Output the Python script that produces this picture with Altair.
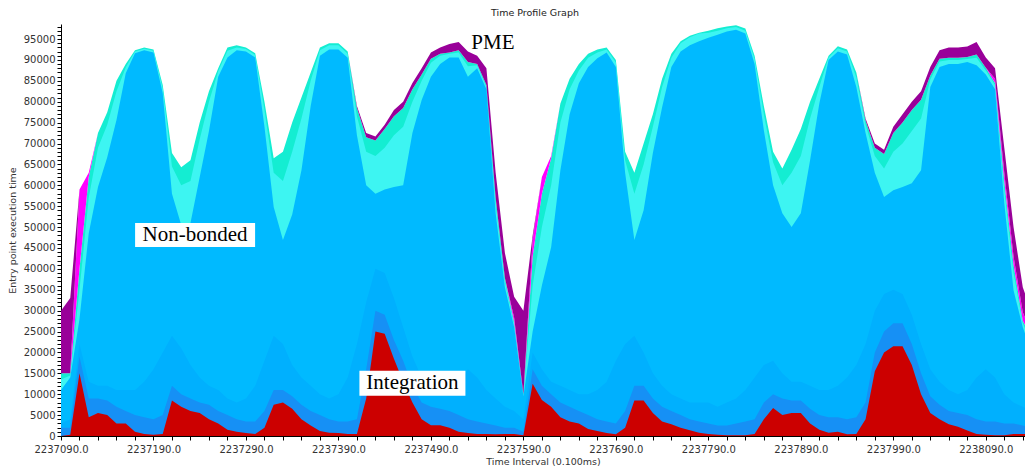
import altair as alt
import pandas as pd

# ---------------- data (values in thousands, sampled every 10 time units) ----------------
x_start = 2237090
x_step = 10

pme_top = [30, 33, 59, 63, 72.5, 77.5, 85, 89, 92.3, 93,
           92.5, 84, 67.7, 64.3, 66, 75, 82.5, 88, 93, 93.5,
           93, 91.6, 80, 66.5, 68, 75, 81, 87, 93, 94,
           94, 92, 79, 72.5, 71.7, 74.5, 78, 80, 84.5, 88,
           91.8, 93, 93.8, 94.3, 92, 91, 88, 63, 43.8, 33.3,
           30, 48, 62, 67, 79.6, 85.5, 89, 91.5, 92.5, 93,
           90, 68, 63, 70, 77, 85.5, 91.5, 94.5, 95.8, 96.5,
           97, 97.6, 98, 98.3, 97.5, 91, 79, 68, 64, 68.5,
           73.5, 80, 85.5, 91, 93.3, 92.5, 87, 76, 70, 68.5,
           74, 77, 80, 82.5, 88.3, 92.3, 93, 93, 93.2, 94.3,
           90.6, 88, 69, 50, 35.6, 29.4]

magenta_top = [15, 15, 59, 63, 72.5, 77.5, 85, 89, 92.3, 93,
               92.5, 84, 67.7, 64.3, 66, 75, 82.5, 88, 93, 93.5,
               93, 91.6, 80, 66.5, 68, 75, 81, 87, 93, 94,
               94, 92, 78.5, 71.5, 70.7, 73.5, 76.5, 78.5, 83, 86.5,
               90.3, 91.5, 91.8, 92.3, 89.5, 89, 84, 57, 37.8, 28.3,
               10, 47, 62, 67, 79.6, 85.5, 89, 91.5, 92.5, 93,
               90, 68, 63, 70, 77, 85.5, 91.5, 94.5, 95.8, 96.5,
               97, 97.6, 98, 98.3, 97.5, 91, 79, 68, 64, 68.5,
               73.5, 80, 85.5, 91, 93.3, 92.5, 87, 75.5, 69, 67.5,
               72.5, 75, 78, 80.5, 86.3, 90.3, 90.5, 90.5, 90.7, 91.3,
               88.1, 85.5, 63, 43, 29.6, 24.4]

turq_top = [15, 15, 40, 62, 72.5, 77.5, 85, 89, 92.3, 93,
            92.5, 84, 67.7, 64.3, 66, 75, 82.5, 88, 93, 93.5,
            93, 91.6, 80, 66.5, 68, 75, 81, 87, 93, 94,
            94, 92, 78.5, 71.5, 70.7, 73.5, 76.5, 78.5, 83, 86.5,
            90.3, 91.5, 91.8, 92.3, 89.5, 89, 84, 57, 37.8, 27.3,
            10, 43, 58, 66.5, 79.6, 85.5, 89, 91.5, 92.5, 93,
            90, 68, 63, 70, 77, 85.5, 91.5, 94.5, 95.8, 96.5,
            97, 97.6, 98, 98.3, 97.5, 91, 79, 68, 64, 68.5,
            73.5, 80, 85.5, 91, 93.3, 92.5, 87, 75.5, 69, 67.5,
            72.5, 75, 78, 80.5, 86.3, 90.3, 90.5, 90.5, 90.7, 91.3,
            88.1, 84.5, 61, 41, 27.6, 23.4]

cyan_top = [13.5, 14.5, 35, 57, 69, 74.5, 82.5, 88.2, 92, 92.7,
            92.2, 83.2, 64.5, 60, 61, 71, 80, 87.3, 92.2, 93,
            92.6, 91.2, 78, 63, 61, 68, 76, 85, 92.3, 93.5,
            93.5, 91.5, 76.5, 68, 67, 69, 72, 74, 80, 85,
            89.3, 91, 91.5, 91.8, 88.5, 88.7, 83.6, 55.5, 37, 26.8,
            9.8, 36, 50, 60, 75, 83, 87.5, 90.5, 91.8, 92.5,
            89.4, 66, 58, 65, 74, 83.5, 90.5, 94, 95.4, 96.3,
            96.5, 97, 97.6, 97.9, 97, 90.3, 77, 65.5, 60, 63,
            67, 76, 83.5, 90.6, 92.8, 92, 85.8, 74.5, 67, 64,
            68, 70, 73, 76, 85.3, 89.6, 90, 90, 90.2, 90.5,
            87.5, 84, 59, 39, 27, 22]

nonbonded_top = [11, 14, 28, 48.5, 59.6, 66.7, 75.6, 86.8, 91.6, 92.3,
                 91.8, 82, 58, 50.5, 51, 62, 73, 86, 90.6, 92.3,
                 92, 90.6, 74, 54.8, 46.9, 53, 63.6, 79, 91, 92.5,
                 92.5, 90.5, 72, 60, 58, 59, 59.6, 60, 72.5, 80.4,
                 86, 89, 90.6, 90.6, 86, 88, 83, 53.3, 35.6, 26,
                 9.5, 25, 36, 45.2, 63.6, 77, 84.4, 88.3, 90.4, 91.8,
                 88.3, 63, 46.9, 54, 67.7, 78.7, 88.3, 92, 93.5, 94.5,
                 95.3, 96, 96.8, 97.2, 96.3, 89, 73.2, 60, 53.3, 50,
                 53.3, 66, 79.6, 90, 92, 91.3, 83.5, 72.5, 63, 57.2,
                 58.8, 59.6, 60.5, 63.6, 83.5, 88.3, 89, 89, 89.5, 88.7,
                 86.5, 83, 55.7, 34.9, 26, 19.8]

mid_top = [3, 4, 22, 13, 12, 12, 11, 11, 11, 13,
           16, 20, 24, 21, 17, 14, 12, 11, 9, 8,
           9, 12, 18, 24, 22, 17, 14, 12, 10, 9,
           10, 14, 22, 32, 40, 39, 33, 26, 19, 14,
           12, 11, 10, 12, 16, 14, 11, 9, 7, 6,
           4, 20, 16, 13, 12, 11, 10, 10, 11, 13,
           18, 22, 24, 20, 15, 12, 10, 9, 8, 8,
           8, 7, 8, 9, 11, 14, 17, 18, 15, 13,
           13, 12, 11, 11, 12, 14, 17, 22, 30, 34,
           35, 34, 29, 22, 16, 13, 11, 10, 11, 14,
           16, 14, 10, 8, 7, 6]

low_top = [2, 2, 19, 9, 9, 8.5, 7, 6, 5, 4.5,
           4, 5, 12, 10, 9, 8, 7.5, 6, 5, 4,
           3.5, 3.5, 6, 11, 11, 9.5, 7.5, 6, 5, 4,
           3.5, 3.5, 4, 16, 30, 29, 23, 18, 12, 8,
           7, 6.5, 6, 5, 4, 3.5, 3, 2.5, 2, 2,
           1, 16, 12, 10, 8, 7, 6, 5, 4, 3.5,
           3, 6, 12, 12, 9, 7, 6, 5, 4, 3.5,
           3, 2.5, 2.5, 3, 3.5, 4, 8, 10, 9, 8.5,
           8.5, 6.5, 5, 4.5, 4.5, 4, 4.5, 8, 20, 25,
           27, 27, 22, 15, 9.5, 7.5, 6, 5.5, 5, 4,
           3.5, 3.5, 3, 3, 2.5, 2]

integration = [0, 0.3, 15, 4.5, 5.5, 5, 3, 3, 1, 0.5,
               0.3, 0.5, 8.5, 7, 6, 5.5, 4, 3, 1.5, 1,
               0.7, 0.5, 2, 7.5, 8, 6.5, 4, 2.5, 1.2, 0.8,
               0.7, 0.5, 0.5, 9, 25, 24.5, 18.5, 13, 8, 4,
               2.6, 2.6, 2, 1, 0.7, 0.5, 0.5, 0.4, 0.5, 0.5,
               0.2, 12.5, 8.6, 7, 4.5, 3.5, 3, 1.7, 1.2, 0.7,
               0.4, 2, 8.5, 8.5, 5.5, 3.5, 2.8, 2, 1.4, 0.8,
               0.5, 0.3, 0.2, 0.2, 0.2, 0.5, 4, 6.7, 5, 5.5,
               5.5, 3, 1.5, 0.8, 1, 0.4, 0.5, 4, 15.5, 20,
               21.5, 21.5, 17, 10, 5.5, 4, 2.8, 2.2, 1.3, 0.5,
               0.3, 0.2, 0.2, 0.5, 0.5, 0.5]

ann_labels = ["PME", "Non-bonded", "Integration"]
ann_x = [2237557, 2237235, 2237470]
ann_y = [94100, 48100, 12600]

# ---------------- build tables ----------------
xs = [x_start + x_step * i for i in range(len(pme_top))]

# (band name, upper series, lower series or None for baseline 0, colour)
bands = [
    ("turq", turq_top, None, "#14EDD2"),
    ("cyan", cyan_top, None, "#3DF5F2"),
    ("nonbonded", nonbonded_top, None, "#00BAFF"),
    ("mid", mid_top, None, "#00B0FE"),
    ("low", low_top, None, "#1690F5"),
    ("integration", integration, None, "#CC0000"),
    ("magenta", magenta_top, turq_top, "#FF00FF"),
    ("pme", pme_top, magenta_top, "#990099"),
]

rows = []
for name, up, lo, _c in bands:
    for i, xv in enumerate(xs):
        rows.append({"x": xv, "band": name, "hi": up[i] * 1000,
                     "lo": (lo[i] * 1000) if lo is not None else 0})
df = pd.DataFrame(rows)
ann = pd.DataFrame({"label": ann_labels, "x": ann_x, "y": ann_y})

# ---------------- scales / axes ----------------
xscale = alt.Scale(domain=[2237090, 2238132.4], nice=False, zero=False)
yscale = alt.Scale(domain=[0, 98600], nice=False, zero=True)

font = "DejaVu Sans"
xaxis = alt.Axis(
    values=list(range(2237090, 2238131, 20)),
    labelExpr="(datum.value - 2237090) % 100 == 0 ? format(datum.value, '.1f') : ''",
    title="Time Interval (0.100ms)", grid=False, tickSize=4, labelPadding=4,
    titlePadding=2, labelFontSize=10, titleFontSize=9.5, labelFont=font,
    titleFont=font, titleFontWeight="normal", labelColor="#333333",
    titleColor="#333333", domainColor="black", tickColor="black",
    labelOverlap=False, labelFlush=False,
)
yaxis = alt.Axis(
    values=list(range(0, 98001, 1000)),
    labelExpr="datum.value % 5000 == 0 ? format(datum.value, 'd') : ''",
    title="Entry point execution time", grid=False, tickSize=4, labelPadding=2,
    titlePadding=6, labelFontSize=10, titleFontSize=9.5, labelFont=font,
    titleFont=font, titleFontWeight="normal", labelColor="#333333",
    titleColor="#333333", domainColor="black", tickColor="black",
    labelOverlap=False, labelFlush=False,
)

base = alt.Chart(df).encode(
    x=alt.X("x:Q", scale=xscale, axis=xaxis),
    y=alt.Y("hi:Q", scale=yscale, axis=yaxis, stack=None),
    y2=alt.Y2("lo:Q"),
)

layers = []
for name, _u, _l, col in bands:
    layers.append(
        base.transform_filter(alt.datum.band == name)
        .mark_area(color=col, interpolate="linear", clip=True, opacity=1)
    )

ann_base = alt.Chart(ann).encode(
    x=alt.X("x:Q", scale=xscale, axis=xaxis),
    y=alt.Y("y:Q", scale=yscale, axis=yaxis),
)
box_nb = ann_base.transform_filter(alt.datum.label == "Non-bonded").mark_point(
    shape="M-1,-0.2H1V0.2H-1Z", size=14400, filled=True, fill="white",
    opacity=1, strokeWidth=0)
box_int = ann_base.transform_filter(alt.datum.label == "Integration").mark_point(
    shape="M-1,-0.236H1V0.236H-1Z", size=11236, filled=True, fill="white",
    opacity=1, strokeWidth=0)
texts = ann_base.mark_text(font="Liberation Serif", fontSize=21, color="black",
                           align="center", baseline="middle").encode(text="label:N")

chart = alt.layer(*layers, box_nb, box_int, texts).properties(
    width=964,
    height=412,
    padding={"left": 53, "top": 16, "right": 0, "bottom": 30},
    autosize=alt.AutoSizeParams(type="none"),
    background="white",
    title=alt.TitleParams("Time Profile Graph", fontSize=9.5, font=font,
                          fontWeight="normal", color="#222222", anchor="middle",
                          offset=4, dx=-8),
).configure_view(strokeWidth=0)

chart.save("out.html", embed_options={"renderer": "svg", "actions": False})
